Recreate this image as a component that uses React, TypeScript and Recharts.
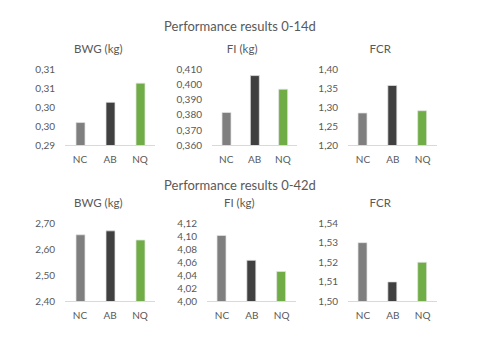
import { BarChart, Bar, XAxis, YAxis, Cell } from 'recharts';

const categories = ['NC', 'AB', 'NQ'];
const barColors = ['#7f7f7f', '#404040', '#70ad47'];

// 0-14d
const bwg14 = [0.296, 0.3013, 0.3063];
const fi14 = [0.3816, 0.4057, 0.3968];
const fcr14 = [1.285, 1.357, 1.291];

// 0-42d
const bwg42 = [2.655, 2.67, 2.635];
const fi42 = [4.101, 4.063, 4.046];
const fcr42 = [1.53, 1.51, 1.52];

const bwg14Ticks = [0.29, 0.295, 0.3, 0.305, 0.31];
const fi14Ticks = [0.36, 0.37, 0.38, 0.39, 0.4, 0.41];
const fcr14Ticks = [1.2, 1.25, 1.3, 1.35, 1.4];
const bwg42Ticks = [2.4, 2.5, 2.6, 2.7];
const fi42Ticks = [4.0, 4.02, 4.04, 4.06, 4.08, 4.1, 4.12];
const fcr42Ticks = [1.5, 1.51, 1.52, 1.53, 1.54];

const FONT = "Lato, 'Open Sans', sans-serif";
const TEXT = '#595959';

const fmt = (decimals: number) => (v: number) => {
  const f = Math.pow(10, decimals);
  return (Math.round(v * f + 1e-6) / f).toFixed(decimals).replace('.', ',');
};

interface PanelProps {
  title: string;
  values: number[];
  ticks: number[];
  decimals: number;
  plotLeft: number;
  plotRight: number;
  plotTop: number;
  plotBottom: number;
}

const Y_W = 44;
const M_TOP = 8;
const X_H = 26;

const Panel = ({ title, values, ticks, decimals, plotLeft, plotRight, plotTop, plotBottom }: PanelProps) => {
  const data = categories.map((c, i) => ({ name: c, value: values[i] }));
  const plotW = plotRight - plotLeft;
  const plotH = plotBottom - plotTop;
  const titleCenter = (plotLeft + plotRight) / 2 - 12;
  return (
    <>
      <div
        style={{
          position: 'absolute',
          left: titleCenter - 60,
          width: 120,
          top: plotTop - 27,
          textAlign: 'center',
          fontSize: 11.5,
          lineHeight: '14px',
          color: TEXT,
          fontFamily: FONT,
        }}
      >
        {title}
      </div>
      <div style={{ position: 'absolute', left: plotLeft - Y_W, top: plotTop - M_TOP }}>
        <BarChart
          width={Y_W + plotW}
          height={M_TOP + plotH + X_H}
          data={data}
          margin={{ top: M_TOP, right: 0, left: 0, bottom: 0 }}
          barCategoryGap="33%"
        >
          <XAxis
            dataKey="name"
            height={X_H}
            tick={{ fontSize: 10, fill: TEXT, fontFamily: FONT }}
            tickLine={false}
            tickSize={6}
            tickMargin={4}
            axisLine={{ stroke: '#d9d9d9', strokeWidth: 1 }}
          />
          <YAxis
            width={Y_W}
            domain={[ticks[0], ticks[ticks.length - 1]]}
            ticks={ticks}
            interval={0}
            allowDataOverflow
            tickFormatter={fmt(decimals)}
            tick={{ fontSize: 10, fill: TEXT, fontFamily: FONT }}
            tickLine={false}
            axisLine={false}
            tickSize={6}
            tickMargin={4}
          />
          <Bar dataKey="value" barSize={9} isAnimationActive={false} stroke="#e4e4e4" strokeWidth={0.75}>
            {data.map((d, i) => (
              <Cell key={d.name} fill={barColors[i]} />
            ))}
          </Bar>
        </BarChart>
      </div>
    </>
  );
};

const Heading = ({ text, centerY }: { text: string; centerY: number }) => (
  <div
    style={{
      position: 'absolute',
      left: 0,
      width: 480,
      top: centerY - 9,
      textAlign: 'center',
      fontSize: 13,
      lineHeight: '18px',
      color: TEXT,
      fontFamily: FONT,
    }}
  >
    {text}
  </div>
);

export default function App() {
  return (
    <div style={{ position: 'absolute', left: 0, top: 0, width: 479, height: 342, background: '#fff', overflow: 'hidden' }}>
      <Heading text="Performance results 0-14d" centerY={26} />
      <Panel title="BWG (kg)" values={bwg14} ticks={bwg14Ticks} decimals={2} plotLeft={65.3} plotRight={155.3} plotTop={68.5} plotBottom={145} />
      <Panel title="FI (kg)" values={fi14} ticks={fi14Ticks} decimals={3} plotLeft={211.7} plotRight={296.7} plotTop={68.5} plotBottom={145} />
      <Panel title="FCR" values={fcr14} ticks={fcr14Ticks} decimals={2} plotLeft={347.5} plotRight={437} plotTop={68.5} plotBottom={145} />

      <Heading text="Performance results 0-42d" centerY={185} />
      <Panel title="BWG (kg)" values={bwg42} ticks={bwg42Ticks} decimals={2} plotLeft={65.3} plotRight={155.3} plotTop={222.5} plotBottom={301} />
      <Panel title="FI (kg)" values={fi42} ticks={fi42Ticks} decimals={2} plotLeft={206.5} plotRight={296} plotTop={222.5} plotBottom={301} />
      <Panel title="FCR" values={fcr42} ticks={fcr42Ticks} decimals={2} plotLeft={347.5} plotRight={437} plotTop={222.5} plotBottom={301} />
    </div>
  );
}
